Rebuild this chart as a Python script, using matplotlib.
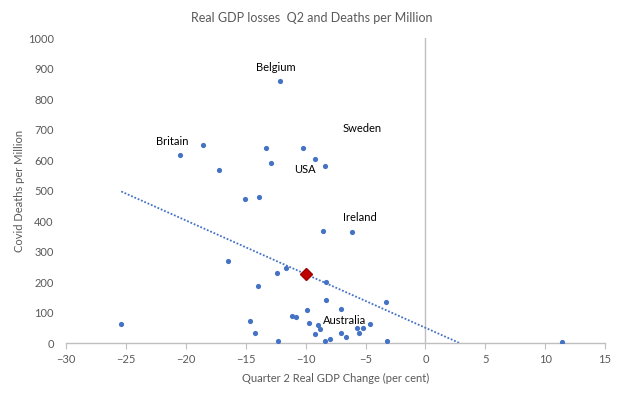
import numpy as np
import matplotlib.pyplot as plt

plt.rcParams["font.family"] = ["Lato", "DejaVu Sans"]

# Q2 real GDP change (per cent) and covid deaths per million
gdp_change = [-12.16, -18.6, -20.5, -17.2, -13.3, -12.9, -10.2, -9.24, -8.4,
              -15.1, -13.9, -8.57, -6.15, -16.5, -12.4, -11.66, -14.0, -9.85,
              -11.13, -10.8, -9.75, -14.67, -14.2, -12.3, -25.4, -8.32, -8.32,
              -3.31, -7.07, -9.0, -8.82, -9.24, -8.4, -7.99, -7.07, -6.65,
              -5.73, -5.23, -5.56, -4.59, -3.23, 11.44]
deaths = [858, 651, 615, 569, 641, 589, 641, 602, 579,
          471, 478, 366, 363, 268, 230, 245, 187, 109,
          88, 85, 64, 71, 32, 6, 61, 201, 140,
          133, 110, 58, 45, 29, 6, 12, 34, 19,
          48, 48, 32, 61, 6, 3]

# average point and linear trend as drawn
avg_gdp = -10.0
avg_deaths = 226
trend_slope = -17.6
trend_intercept = 50.0

country_labels = ["Belgium", "Britain", "Sweden", "USA", "Ireland", "Australia"]
label_pos = [(-12.45, 905), (-21.1, 662), (-5.25, 702), (-10.05, 570),
             (-5.5, 412), (-6.75, 75)]

x_ticks = [-30, -25, -20, -15, -10, -5, 0, 5, 10, 15]
y_ticks = [0, 100, 200, 300, 400, 500, 600, 700, 800, 900, 1000]

blue = "#4472C4"
grey_txt = "#595959"
axis_col = "#BFBFBF"

fig = plt.figure(figsize=(6.24, 3.97), dpi=100)
ax = fig.add_axes([0.106, 0.136, 0.8636, 0.768])

ax.scatter(gdp_change, deaths, s=14, color=blue, zorder=3, linewidths=0)

xs = np.array([min(gdp_change), max(gdp_change)])
ax.plot(xs, trend_slope * xs + trend_intercept, linestyle=(0, (1, 1)),
        color=blue, linewidth=1.3, zorder=2)

ax.plot([avg_gdp], [avg_deaths], marker="D", markersize=6.5, color="#C00000",
        markeredgecolor="#A00000", zorder=4, linestyle="none")

for name, (lx, ly) in zip(country_labels, label_pos):
    ax.text(lx, ly, name, ha="center", va="center", fontsize=8, color="black")

ax.axvline(0, color=axis_col, linewidth=1, zorder=1)

ax.set_xlim(-30, 15)
ax.set_ylim(0, 1000)
ax.set_xticks(x_ticks)
ax.set_yticks(y_ticks)

for s in ["top", "right", "left"]:
    ax.spines[s].set_visible(False)
ax.spines["bottom"].set_color(axis_col)
ax.spines["bottom"].set_linewidth(1)

ax.tick_params(axis="x", direction="out", length=4, color=axis_col,
               labelsize=8, labelcolor=grey_txt, pad=4)
ax.tick_params(axis="y", length=0, labelsize=8, labelcolor=grey_txt, pad=9)

ax.set_xlabel("Quarter 2 Real GDP Change (per cent)", fontsize=8, color=grey_txt, labelpad=6)
ax.set_ylabel("Covid Deaths per Million", fontsize=8, color=grey_txt, labelpad=2)
fig.text(0.5, 0.955, "Real GDP losses  Q2 and Deaths per Million",
         ha="center", va="center", fontsize=9, color=grey_txt)

fig.savefig("out.png", dpi=100)
